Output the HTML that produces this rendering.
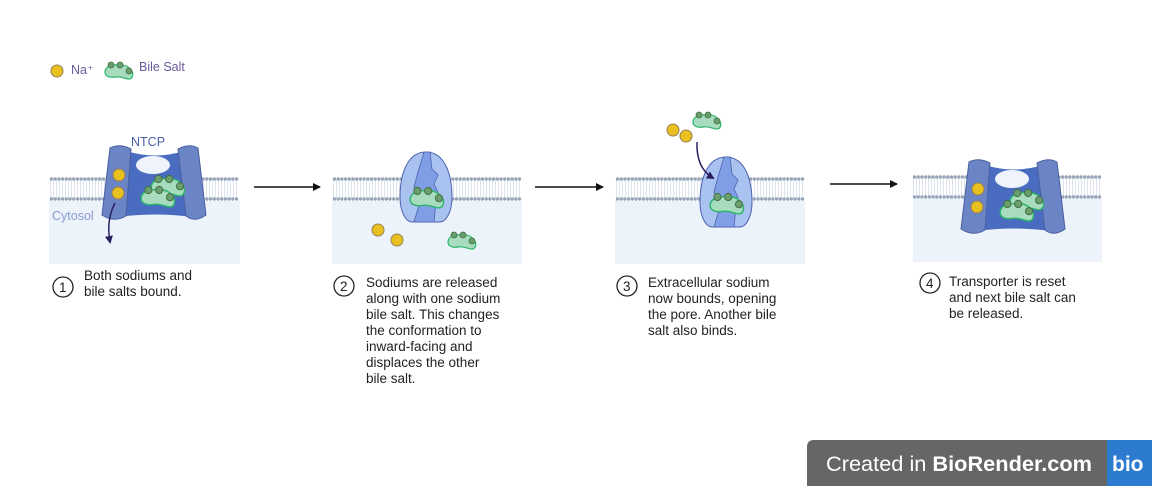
<!DOCTYPE html>
<html><head><meta charset="utf-8"><style>
html,body{margin:0;padding:0;background:#fff;}
svg{display:block;}
text{font-family:"Liberation Sans",sans-serif;}
</style></head><body>
<svg width="1152" height="486" viewBox="0 0 1152 486" xmlns="http://www.w3.org/2000/svg">
<defs>
<g id="memb">
<rect x="0" y="0" width="189" height="24" fill="#fff"/>
<line x1="0" y1="12" x2="189" y2="12" stroke="#dde3ee" stroke-width="20" stroke-dasharray="1 2"/>
<line x1="1.5" y1="2" x2="188" y2="2" stroke="#97a4b8" stroke-width="3.4" stroke-dasharray="0 3.7" stroke-linecap="round"/>
<line x1="1.5" y1="22" x2="188" y2="22" stroke="#97a4b8" stroke-width="3.4" stroke-dasharray="0 3.7" stroke-linecap="round"/>
</g>
<g id="bs">
<path d="M-14,2 C-14,-4 -6,-6 0,-5 C6,-6 10,-3 12,0 C15,3 14,9 10,9 C6,9 2,6 -4,7 C-10,8 -14,6 -14,2 Z" fill="#a8dcbf" stroke="#2bb56a" stroke-width="1.2"/>
<circle cx="-8" cy="-5" r="3" fill="#6a9e6c" stroke="#3f6e42" stroke-width="0.8"/>
<circle cx="1" cy="-5" r="3" fill="#6a9e6c" stroke="#3f6e42" stroke-width="0.8"/>
<circle cx="10" cy="1" r="3" fill="#6a9e6c" stroke="#3f6e42" stroke-width="0.8"/>
</g>
<g id="na"><circle r="6" fill="#e8c020" stroke="#9a8050" stroke-width="1"/></g>
<g id="outT">
<path d="M126,151 Q155,160 184,151 L192,217 Q155,212 118,217 Z" fill="#4a6cc0"/>
<path d="M110,148 Q120,143 131,149 L126,216 Q114,223 102,215 Z" fill="#6b84c6" stroke="#4a5f9e" stroke-width="1"/>
<path d="M178,149 Q189,143 198,148 L206,215 Q195,223 186,216 Z" fill="#6b84c6" stroke="#4a5f9e" stroke-width="1"/>
<ellipse cx="153" cy="165" rx="17" ry="9" fill="#eef3fc"/>
<use href="#na" x="119" y="175"/>
<use href="#na" x="118" y="193"/>
<g transform="translate(168,185) scale(1.2)"><use href="#bs"/></g>
<g transform="translate(158,196) scale(1.2)"><use href="#bs"/></g>
</g>
<g id="inT">
<path d="M0,-35 C20,-35 26,-10 26,10 C26,25 20,35 14,35 L-14,35 C-20,35 -26,25 -26,10 C-26,-10 -20,-35 0,-35 Z" fill="#a9c2f0" stroke="#4e62b0" stroke-width="1"/>
<path d="M-2,-35 L-8,-15 L-12,0 L-6,15 L-12,35 L8,35 L10,15 L12,5 L8,-3 L12,-12 L6,-18 L4,-35 Z" fill="#7f9ee6" stroke="#4e62b0" stroke-width="0.8"/>
</g>
<marker id="ah" markerWidth="8" markerHeight="8" refX="7" refY="4" orient="auto" markerUnits="userSpaceOnUse"><path d="M0,0 L8,4 L0,8 Z" fill="#111"/></marker>
<marker id="ah2" markerWidth="8" markerHeight="8" refX="6" refY="4" orient="auto" markerUnits="userSpaceOnUse"><path d="M0,0 L8,4 L0,8 Z" fill="#2a2060"/></marker>
</defs>

<use href="#na" x="57" y="71"/>
<text x="71" y="74" font-size="12.5" fill="#6a5a9a">Na⁺</text>
<use href="#bs" x="119" y="70"/>
<text x="139" y="71" font-size="12.5" fill="#6a5a9a">Bile Salt</text>

<rect x="49" y="200" width="191" height="64" fill="#edf3fb"/>
<use href="#memb" x="50" y="177"/>
<use href="#outT"/>
<text x="131" y="146" font-size="12.5" fill="#4a5fa8">NTCP</text>
<text x="52" y="220" font-size="12.5" fill="#8a9ad0">Cytosol</text>
<path d="M115,203 Q106,220 110,242" fill="none" stroke="#2a2060" stroke-width="1.5" marker-end="url(#ah2)"/>

<line x1="254" y1="187" x2="320" y2="187" stroke="#111" stroke-width="1.5" marker-end="url(#ah)"/>
<line x1="535" y1="187" x2="603" y2="187" stroke="#111" stroke-width="1.5" marker-end="url(#ah)"/>
<line x1="830" y1="184" x2="897" y2="184" stroke="#111" stroke-width="1.5" marker-end="url(#ah)"/>

<rect x="332" y="200" width="190" height="64" fill="#edf3fb"/>
<use href="#memb" x="333" y="177"/>
<use href="#inT" x="426" y="187"/>
<g transform="translate(427,197) scale(1.2)"><use href="#bs"/></g>
<use href="#na" x="378" y="230"/>
<use href="#na" x="397" y="240"/>
<use href="#bs" x="462" y="240"/>

<rect x="615" y="200" width="190" height="64" fill="#edf3fb"/>
<use href="#memb" x="616" y="177"/>
<use href="#inT" x="726" y="192"/>
<g transform="translate(727,203) scale(1.2)"><use href="#bs"/></g>
<use href="#na" x="673" y="130"/>
<use href="#na" x="686" y="136"/>
<use href="#bs" x="707" y="120"/>
<path d="M697,142 Q696,168 713,178" fill="none" stroke="#2a2060" stroke-width="1.5" marker-end="url(#ah2)"/>

<rect x="913" y="198" width="189" height="64" fill="#edf3fb"/>
<use href="#memb" x="913" y="175"/>
<use href="#outT" x="859" y="14"/>

<g font-size="13.5" fill="#222">
<circle cx="63" cy="287" r="10" fill="none" stroke="#222" stroke-width="1.3"/><text x="59" y="292">1</text>
<text x="84" y="280">Both sodiums and</text><text x="84" y="296">bile salts bound.</text>
<circle cx="344" cy="286" r="10" fill="none" stroke="#222" stroke-width="1.3"/><text x="340" y="291">2</text>
<text x="366" y="287">Sodiums are released</text><text x="366" y="303">along with one sodium</text><text x="366" y="319">bile salt. This changes</text><text x="366" y="335">the conformation to</text><text x="366" y="351">inward-facing and</text><text x="366" y="367">displaces the other</text><text x="366" y="383">bile salt.</text>
<circle cx="627" cy="286" r="10" fill="none" stroke="#222" stroke-width="1.3"/><text x="623" y="291">3</text>
<text x="648" y="287">Extracellular sodium</text><text x="648" y="303">now bounds, opening</text><text x="648" y="319">the pore. Another bile</text><text x="648" y="335">salt also binds.</text>
<circle cx="930" cy="283" r="10" fill="none" stroke="#222" stroke-width="1.3"/><text x="926" y="288">4</text>
<text x="949" y="286">Transporter is reset</text><text x="949" y="302">and next bile salt can</text><text x="949" y="318">be released.</text>
</g>

<path d="M814,440 L1107,440 L1107,486 L807,486 L807,447 Q807,440 814,440 Z" fill="#666"/>
<rect x="1107" y="440" width="45" height="46" fill="#2d7bd0"/>
<text x="826" y="471" font-size="21.5" fill="#fff" textLength="266" lengthAdjust="spacingAndGlyphs">Created in <tspan font-weight="bold">BioRender.com</tspan></text>
<text x="1112" y="471" font-size="21" font-weight="bold" fill="#fff">bio</text>
</svg>
</body></html>
